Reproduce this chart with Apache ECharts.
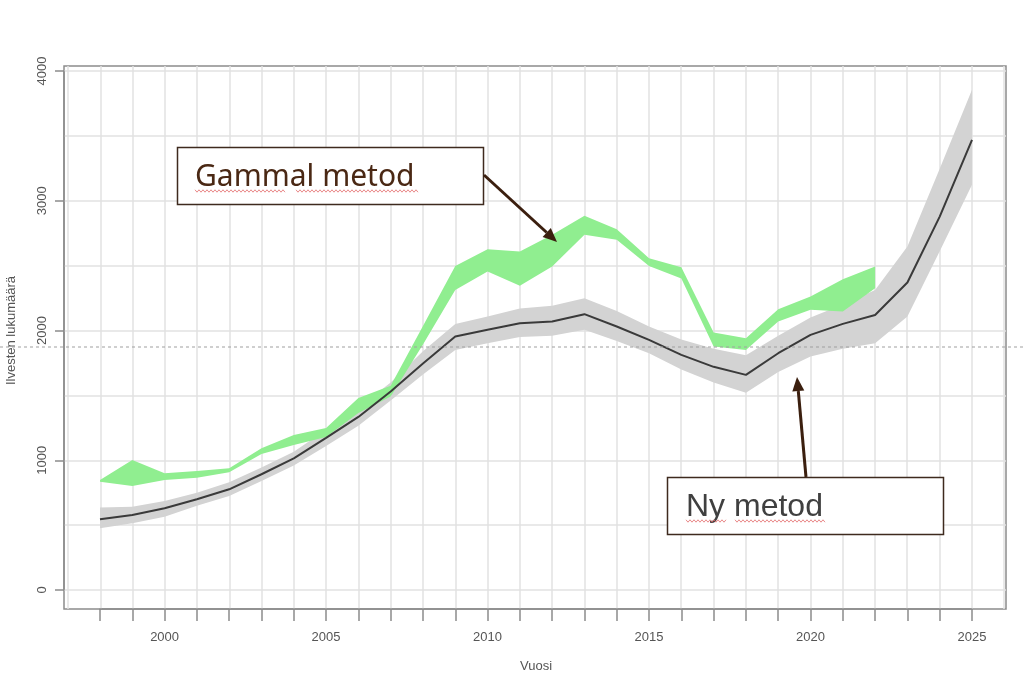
<!DOCTYPE html>
<html>
<head>
<meta charset="utf-8">
<script src="https://cdn.jsdelivr.net/npm/echarts@6/dist/echarts.min.js"></script>
<style>
  html, body { margin: 0; padding: 0; background: #fff; }
  #chart { width: 1024px; height: 680px; }
</style>
</head>
<body>
<div id="chart"></div>
<script>
// vuodet
const years = [1998, 1999, 2000, 2001, 2002, 2003, 2004, 2005, 2006, 2007, 2008, 2009, 2010, 2011,
  2012, 2013, 2014, 2015, 2016, 2017, 2018, 2019, 2020, 2021, 2022, 2023, 2024, 2025];

// ny metod: mediaani + luottamusväli
const newMid = [545, 578, 630, 699, 776, 892, 1015, 1172, 1334, 1530, 1745, 1953, 2005, 2056,
  2069, 2126, 2031, 1928, 1812, 1720, 1658, 1825, 1966, 2051, 2120, 2370, 2878, 3470];
const newLow = [476, 514, 565, 650, 725, 840, 960, 1110, 1265, 1460, 1660, 1850, 1902, 1950,
  1960, 2005, 1920, 1825, 1700, 1600, 1520, 1680, 1800, 1860, 1902, 2107, 2610, 3123];
const newHigh = [635, 642, 686, 750, 830, 945, 1065, 1235, 1405, 1600, 1840, 2051, 2108, 2170,
  2190, 2249, 2150, 2031, 1930, 1860, 1810, 1960, 2100, 2200, 2313, 2647, 3246, 3855];

// gammal metod (1998-2022)
const oldLow = [835, 802, 848, 866, 907, 1048, 1118, 1180, 1365, 1491, 1892, 2313, 2455, 2344,
  2493, 2737, 2699, 2498, 2401, 1876, 1850, 2069, 2159, 2146, 2326];
const oldHigh = [848, 1002, 900, 917, 938, 1092, 1195, 1249, 1480, 1575, 2035, 2498, 2627, 2609,
  2737, 2884, 2781, 2557, 2488, 1985, 1940, 2164, 2262, 2395, 2493];

const yTicks = [0, 1000, 2000, 3000, 4000];
const xLabelYears = [2000, 2005, 2010, 2015, 2020, 2025];

const chart = echarts.init(document.getElementById('chart'));

const axisGrey = '#8c8c8c';
const gridGrey = '#e2e2e2';
const hidden = { show: false };

// punainen aaltoviiva (oikeinkirjoitus)
function wavy(x0, x1, y) {
  const pts = [];
  for (let x = x0, k = 0; x <= x1; x += 2, k++) {
    pts.push([x, y + (k % 2 ? 1.2 : -1.2)]);
  }
  return {
    type: 'polyline', shape: { points: pts },
    style: { stroke: '#e26b6b', lineWidth: 0.8, fill: null }, z: 101
  };
}

function arrow(x0, y0, tip, base, c1, c2) {
  return [
    { type: 'line', shape: { x1: x0, y1: y0, x2: base[0], y2: base[1] },
      style: { stroke: '#3b1f0f', lineWidth: 3 }, z: 100 },
    { type: 'polygon', shape: { points: [tip, c1, c2] },
      style: { fill: '#3b1f0f' }, z: 100 }
  ];
}

const option = {
  animation: false,
  grid: [
    // laatikko
    { left: 64, right: 18, top: 66, bottom: 71, show: true, borderColor: axisGrey, borderWidth: 1.5,
      backgroundColor: 'transparent', outerBoundsMode: 'none', containLabel: false },
    // pystyviivat
    { left: 68, right: 20, top: 66, bottom: 71, outerBoundsMode: 'none', containLabel: false },
    // vaakaviivat
    { left: 64, right: 18, top: 71, bottom: 90, outerBoundsMode: 'none', containLabel: false },
    // data + akselit
    { left: 100, right: 52, top: 71, bottom: 90, outerBoundsMode: 'none', containLabel: false }
  ],
  xAxis: [
    { gridIndex: 0, type: 'value', min: 0, max: 1, show: false },
    { gridIndex: 1, type: 'value', min: 1997, max: 2026, interval: 1,
      axisLine: hidden, axisTick: hidden, axisLabel: hidden,
      splitLine: { show: true, lineStyle: { color: gridGrey, width: 1.5 } } },
    { gridIndex: 2, type: 'value', min: 0, max: 1, show: false },
    { gridIndex: 3, type: 'category', data: years, boundaryGap: false, offset: 19,
      axisLine: { show: true, onZero: false, lineStyle: { color: axisGrey, width: 1.5 } },
      axisTick: { show: true, interval: 0, length: 12, lineStyle: { color: axisGrey, width: 1.5 } },
      axisLabel: { interval: 0, color: '#555', fontSize: 13, margin: 22, fontFamily: 'Liberation Sans',
        formatter: (v) => xLabelYears.includes(Number(v)) ? String(v) : '' },
      splitLine: hidden,
      name: 'Vuosi', nameLocation: 'middle', nameGap: 51,
      nameTextStyle: { color: '#555', fontSize: 13, fontFamily: 'Liberation Sans' } }
  ],
  yAxis: [
    { gridIndex: 0, type: 'value', min: 0, max: 1, show: false },
    { gridIndex: 1, type: 'value', min: 0, max: 1, show: false },
    { gridIndex: 2, type: 'value', min: 0, max: 4000, interval: 500,
      axisLine: hidden, axisTick: hidden, axisLabel: hidden,
      splitLine: { show: true, lineStyle: { color: gridGrey, width: 1.5 } } },
    { gridIndex: 3, type: 'value', min: 0, max: 4000, interval: 1000, offset: 36,
      axisLine: { show: true, onZero: false, lineStyle: { color: axisGrey, width: 1.5 } },
      axisTick: { show: true, length: 9, lineStyle: { color: axisGrey, width: 1.5 } },
      axisLabel: { color: '#555', fontSize: 13, margin: 15, rotate: 90, fontFamily: 'Liberation Sans',
        formatter: (v) => yTicks.includes(v) ? String(v) : '' },
      splitLine: hidden,
      name: 'Ilvesten lukumäärä', nameLocation: 'middle', nameGap: 46,
      nameTextStyle: { color: '#555', fontSize: 13, fontFamily: 'Liberation Sans' } }
  ],
  series: [
    { type: 'line', xAxisIndex: 3, yAxisIndex: 3, stack: 'ny', symbol: 'none',
      data: newLow, lineStyle: { opacity: 0 } },
    { type: 'line', xAxisIndex: 3, yAxisIndex: 3, stack: 'ny', symbol: 'none',
      data: newHigh.map((v, i) => v - newLow[i]),
      lineStyle: { opacity: 0 }, areaStyle: { color: '#d3d3d3', opacity: 1 } },
    { type: 'line', xAxisIndex: 3, yAxisIndex: 3, symbol: 'none',
      data: newMid, lineStyle: { color: '#3a3a3a', width: 2 } },
    { type: 'line', xAxisIndex: 3, yAxisIndex: 3, stack: 'old', symbol: 'none',
      data: oldLow, lineStyle: { opacity: 0 }, z: 3 },
    { type: 'line', xAxisIndex: 3, yAxisIndex: 3, stack: 'old', symbol: 'none',
      data: oldHigh.map((v, i) => v - oldLow[i]), z: 3,
      lineStyle: { opacity: 0 }, areaStyle: { color: '#90ee90', opacity: 1 } }
  ],
  graphic: [
    // katkoviiva koko leveydeltä
    { type: 'line', shape: { x1: 0, y1: 347, x2: 1024, y2: 347 },
      style: { stroke: '#a0a0a0', lineWidth: 1, lineDash: [3, 3] }, z: 50 },
    // Gammal metod
    { type: 'rect', shape: { x: 177.5, y: 147.5, width: 306, height: 57 },
      style: { fill: '#fff', stroke: '#3e2a1e', lineWidth: 1.5 }, z: 100 },
    { type: 'text', x: 195, y: 177, z: 101,
      style: { text: 'Gammal metod', fill: '#4a2814', font: '30px "Noto Sans"', textVerticalAlign: 'middle' } },
    wavy(195, 285, 191), wavy(296, 418, 191),
    ...arrow(484, 175, [557, 242], [546.7, 232.5], [542.6, 236.9], [550.8, 228.1]),
    // Ny metod
    { type: 'rect', shape: { x: 667.5, y: 477.5, width: 276, height: 57 },
      style: { fill: '#fff', stroke: '#3e2a1e', lineWidth: 1.5 }, z: 100 },
    { type: 'text', x: 686, y: 507, z: 101,
      style: { text: 'Ny metod', fill: '#404040', font: '32px "Liberation Sans"', textVerticalAlign: 'middle' } },
    wavy(686, 727, 521), wavy(735, 826, 521),
    ...arrow(806, 477, [797, 377], [798.3, 391], [804.3, 390.5], [792.3, 391.5])
  ]
};

chart.setOption(option);
window.addEventListener('resize', () => chart.resize());
</script>
</body>
</html>
